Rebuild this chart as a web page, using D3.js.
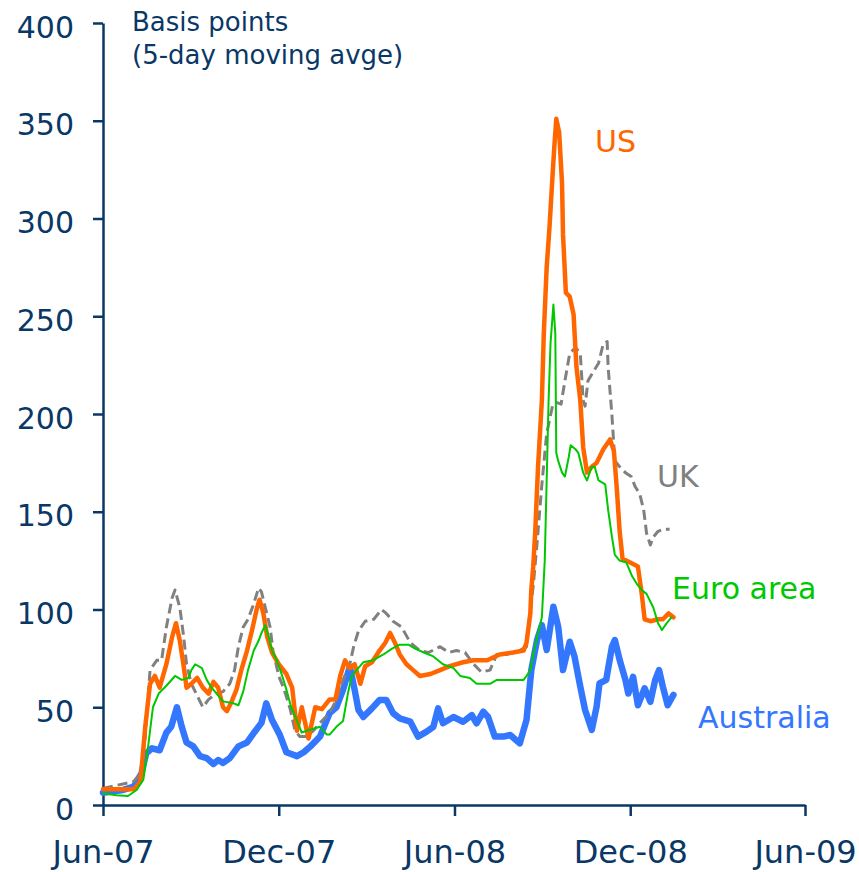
<!DOCTYPE html>
<html>
<head>
<meta charset="utf-8">
<script src="https://cdn.jsdelivr.net/npm/d3@7"></script>
<style>
    body { margin: 0; background: #fff; }
    svg { display: block; font-family: "DejaVu Sans", Verdana, sans-serif; }
</style>
</head>
<body>
<svg width="859" height="872"></svg>
<script>
// spreads in basis points, 5-day moving average
const ukData = [
    ["2007-06-01", 8.5], ["2007-07-03", 12], ["2007-07-10", 16], ["2007-07-15", 35],
    ["2007-07-20", 69], ["2007-07-27", 74], ["2007-08-01", 74], ["2007-08-06", 91],
    ["2007-08-12", 106], ["2007-08-15", 110], ["2007-08-20", 101], ["2007-08-24", 86],
    ["2007-08-27", 72], ["2007-09-01", 62], ["2007-09-07", 56], ["2007-09-13", 50],
    ["2007-09-19", 54], ["2007-09-27", 57], ["2007-10-04", 58], ["2007-10-11", 62],
    ["2007-10-16", 69], ["2007-10-20", 81], ["2007-10-25", 91], ["2007-10-30", 95],
    ["2007-11-05", 103], ["2007-11-10", 111], ["2007-11-13", 109], ["2007-11-17", 101],
    ["2007-11-22", 91], ["2007-11-25", 79], ["2007-12-01", 66], ["2007-12-06", 60],
    ["2007-12-13", 49], ["2007-12-18", 38], ["2007-12-23", 35], ["2007-12-30", 35],
    ["2008-01-06", 38], ["2008-01-13", 42], ["2008-01-23", 47], ["2008-01-30", 54],
    ["2008-02-06", 64], ["2008-02-13", 72], ["2008-02-17", 81], ["2008-02-22", 89],
    ["2008-02-29", 94], ["2008-03-09", 95], ["2008-03-17", 100], ["2008-03-22", 98],
    ["2008-03-29", 94], ["2008-04-07", 91], ["2008-04-16", 83], ["2008-04-26", 79],
    ["2008-05-05", 78], ["2008-05-17", 81], ["2008-05-26", 78], ["2008-06-03", 79],
    ["2008-06-12", 78], ["2008-06-21", 72], ["2008-06-29", 68], ["2008-07-08", 69],
    ["2008-07-15", 77], ["2008-07-25", 77], ["2008-08-08", 79], ["2008-08-15", 81],
    ["2008-08-19", 100], ["2008-08-22", 112], ["2008-08-26", 134], ["2008-08-31", 164],
    ["2008-09-05", 190], ["2008-09-11", 204], ["2008-09-15", 206], ["2008-09-20", 205],
    ["2008-09-24", 217], ["2008-09-29", 231], ["2008-10-05", 234], ["2008-10-10", 231],
    ["2008-10-13", 207], ["2008-10-15", 204], ["2008-10-18", 217], ["2008-10-24", 222],
    ["2008-10-29", 226], ["2008-11-03", 236], ["2008-11-07", 237], ["2008-11-08", 224],
    ["2008-11-12", 199], ["2008-11-15", 176], ["2008-11-20", 173], ["2008-11-26", 170],
    ["2008-12-02", 168], ["2008-12-06", 163], ["2008-12-11", 159], ["2008-12-15", 151],
    ["2008-12-18", 139], ["2008-12-22", 133], ["2008-12-25", 137], ["2008-12-30", 140],
    ["2009-01-04", 141], ["2009-01-11", 141]
];

const euroData = [
    ["2007-06-01", 6], ["2007-06-15", 5], ["2007-06-27", 4.6], ["2007-07-06", 7.7],
    ["2007-07-13", 13], ["2007-07-18", 30], ["2007-07-23", 50], ["2007-07-29", 57],
    ["2007-08-06", 61], ["2007-08-15", 66], ["2007-08-22", 64], ["2007-08-29", 65],
    ["2007-09-01", 69], ["2007-09-05", 72], ["2007-09-12", 70], ["2007-09-17", 64],
    ["2007-09-22", 60], ["2007-09-29", 56], ["2007-10-04", 53], ["2007-10-15", 52],
    ["2007-10-20", 51], ["2007-10-25", 58], ["2007-10-30", 69], ["2007-11-05", 79],
    ["2007-11-10", 84], ["2007-11-13", 88], ["2007-11-17", 92], ["2007-11-20", 87],
    ["2007-11-24", 79], ["2007-11-29", 74], ["2007-12-04", 67], ["2007-12-09", 59],
    ["2007-12-14", 50], ["2007-12-20", 43], ["2007-12-25", 37], ["2007-12-30", 38],
    ["2008-01-06", 39], ["2008-01-13", 40], ["2008-01-20", 36], ["2008-01-23", 36],
    ["2008-01-30", 40], ["2008-02-06", 43], ["2008-02-11", 57], ["2008-02-15", 66],
    ["2008-02-20", 69], ["2008-02-27", 73], ["2008-03-08", 74], ["2008-03-19", 77],
    ["2008-03-28", 80], ["2008-04-05", 82], ["2008-04-14", 82], ["2008-04-21", 80],
    ["2008-04-30", 78], ["2008-05-10", 76], ["2008-05-20", 72], ["2008-05-31", 70],
    ["2008-06-07", 66], ["2008-06-17", 65], ["2008-06-24", 62], ["2008-07-08", 62],
    ["2008-07-15", 64], ["2008-08-01", 64], ["2008-08-12", 64], ["2008-08-15", 66],
    ["2008-08-19", 69], ["2008-08-22", 77], ["2008-08-27", 88], ["2008-08-31", 96],
    ["2008-09-03", 125], ["2008-09-07", 207], ["2008-09-09", 236], ["2008-09-12", 256],
    ["2008-09-14", 241], ["2008-09-15", 180], ["2008-09-17", 176], ["2008-09-21", 170],
    ["2008-09-24", 168], ["2008-09-28", 178], ["2008-09-30", 184], ["2008-10-05", 182],
    ["2008-10-08", 180], ["2008-10-13", 170], ["2008-10-17", 166], ["2008-10-22", 173],
    ["2008-10-25", 173], ["2008-10-29", 166], ["2008-11-05", 164], ["2008-11-08", 151],
    ["2008-11-12", 137], ["2008-11-15", 128], ["2008-11-20", 125], ["2008-11-27", 124],
    ["2008-12-03", 117], ["2008-12-08", 113], ["2008-12-13", 110], ["2008-12-18", 108],
    ["2008-12-25", 101], ["2008-12-30", 93], ["2009-01-03", 89.5], ["2009-01-08", 93],
    ["2009-01-13", 96]
];

const usData = [
    ["2007-06-01", 8], ["2007-07-03", 8], ["2007-07-10", 12], ["2007-07-15", 40],
    ["2007-07-20", 62], ["2007-07-25", 66], ["2007-07-30", 60], ["2007-08-06", 72],
    ["2007-08-12", 86], ["2007-08-16", 93], ["2007-08-20", 84], ["2007-08-24", 71],
    ["2007-08-27", 60], ["2007-09-01", 62], ["2007-09-07", 65], ["2007-09-13", 60],
    ["2007-09-19", 57], ["2007-09-24", 63], ["2007-09-29", 60], ["2007-10-04", 50],
    ["2007-10-08", 48], ["2007-10-13", 53], ["2007-10-18", 59], ["2007-10-23", 69],
    ["2007-10-29", 79], ["2007-11-03", 89], ["2007-11-08", 100], ["2007-11-11", 105],
    ["2007-11-15", 98], ["2007-11-19", 86], ["2007-11-24", 78], ["2007-12-01", 72],
    ["2007-12-09", 67], ["2007-12-15", 60], ["2007-12-20", 38], ["2007-12-25", 50],
    ["2008-01-01", 34], ["2008-01-08", 50], ["2008-01-15", 49], ["2008-01-23", 54],
    ["2008-01-29", 54], ["2008-02-03", 66], ["2008-02-08", 74], ["2008-02-13", 70],
    ["2008-02-18", 72], ["2008-02-24", 62], ["2008-02-29", 71], ["2008-03-07", 73],
    ["2008-03-15", 79], ["2008-03-21", 83], ["2008-03-26", 88], ["2008-03-31", 83],
    ["2008-04-05", 77], ["2008-04-12", 72], ["2008-04-19", 69], ["2008-04-26", 66],
    ["2008-05-07", 67], ["2008-05-17", 69], ["2008-05-27", 71], ["2008-06-10", 73],
    ["2008-06-21", 74], ["2008-07-05", 74], ["2008-07-18", 77], ["2008-08-01", 78],
    ["2008-08-12", 79], ["2008-08-15", 83], ["2008-08-19", 98], ["2008-08-20", 110],
    ["2008-08-22", 122], ["2008-08-24", 139], ["2008-08-27", 173], ["2008-08-31", 207],
    ["2008-09-02", 241], ["2008-09-05", 275], ["2008-09-08", 296], ["2008-09-11", 321],
    ["2008-09-13", 337], ["2008-09-15", 351], ["2008-09-18", 344], ["2008-09-21", 318],
    ["2008-09-22", 292], ["2008-09-25", 262], ["2008-09-29", 260], ["2008-10-03", 251],
    ["2008-10-06", 224], ["2008-10-10", 207], ["2008-10-13", 183], ["2008-10-17", 170],
    ["2008-10-22", 173], ["2008-10-27", 175], ["2008-11-03", 182], ["2008-11-10", 187],
    ["2008-11-14", 181], ["2008-11-17", 162], ["2008-11-20", 140], ["2008-11-23", 126],
    ["2008-12-01", 124], ["2008-12-09", 122], ["2008-12-13", 108], ["2008-12-16", 95],
    ["2008-12-22", 94], ["2008-12-30", 95], ["2009-01-04", 95], ["2009-01-10", 98],
    ["2009-01-15", 96]
];

const ausData = [
    ["2007-06-01", 6.3], ["2007-06-22", 7.7], ["2007-07-03", 9.4], ["2007-07-11", 16],
    ["2007-07-16", 26.5], ["2007-07-22", 29], ["2007-07-30", 28], ["2007-08-06", 37],
    ["2007-08-11", 40], ["2007-08-17", 50], ["2007-08-22", 40], ["2007-08-27", 32],
    ["2007-09-03", 30], ["2007-09-10", 25], ["2007-09-17", 24], ["2007-09-24", 21],
    ["2007-09-29", 23], ["2007-10-04", 21.5], ["2007-10-11", 24], ["2007-10-20", 30],
    ["2007-10-29", 32], ["2007-11-06", 37.5], ["2007-11-13", 42], ["2007-11-18", 52],
    ["2007-11-24", 43.5], ["2007-12-02", 36], ["2007-12-09", 27], ["2007-12-20", 25],
    ["2007-12-27", 27], ["2008-01-03", 30], ["2008-01-13", 35], ["2008-01-23", 47],
    ["2008-01-30", 50], ["2008-02-06", 59], ["2008-02-13", 70.7], ["2008-02-18", 59],
    ["2008-02-22", 48.6], ["2008-02-27", 45], ["2008-03-07", 49.4], ["2008-03-15", 53.7],
    ["2008-03-22", 53.7], ["2008-03-29", 47], ["2008-04-05", 44.3], ["2008-04-16", 42.6],
    ["2008-04-24", 35], ["2008-05-03", 37.5], ["2008-05-10", 40], ["2008-05-15", 49.4],
    ["2008-05-20", 41.8], ["2008-05-31", 45], ["2008-06-10", 42.6], ["2008-06-19", 46],
    ["2008-06-24", 41.8], ["2008-07-01", 47.7], ["2008-07-06", 45], ["2008-07-13", 35],
    ["2008-07-22", 35], ["2008-07-29", 35.8], ["2008-08-08", 31.5], ["2008-08-15", 43.5],
    ["2008-08-20", 69], ["2008-08-26", 84.4], ["2008-08-31", 92], ["2008-09-05", 79.3],
    ["2008-09-12", 101.4], ["2008-09-17", 91.2], ["2008-09-22", 69], ["2008-09-29", 83.5],
    ["2008-10-04", 75.9], ["2008-10-10", 60.5], ["2008-10-15", 48.6], ["2008-10-22", 38.4],
    ["2008-10-27", 50.3], ["2008-10-30", 62.2], ["2008-11-06", 64], ["2008-11-12", 81],
    ["2008-11-15", 84.4], ["2008-11-20", 74.2], ["2008-11-26", 64], ["2008-11-29", 57],
    ["2008-12-04", 65.6], ["2008-12-09", 51], ["2008-12-16", 59.7], ["2008-12-22", 52.8],
    ["2008-12-27", 64], ["2008-12-31", 69], ["2009-01-04", 60.5], ["2009-01-09", 51],
    ["2009-01-15", 56.3]
];

const yTicks = [0, 50, 100, 150, 200, 250, 300, 350, 400];
const xTicks = ["2007-06-01", "2007-12-01", "2008-06-01", "2008-12-01", "2009-06-01"];
const xDomain = ["2007-06-01", "2009-06-01"];

const navy = "#0a3866";
const parseDate = d3.timeParse("%Y-%m-%d");

const x = d3.scaleTime().domain(xDomain.map(parseDate)).range([103, 805]);
const y = d3.scaleLinear().domain([0, 400]).range([805, 23]);

function drawAxes() {
    const svg = d3.select("svg");
    const yAxis = svg.append("g")
        .attr("transform", "translate(103, 0)")
        .call(d3.axisLeft(y).tickValues(yTicks).tickSize(10).tickSizeOuter(0).tickPadding(19));
    yAxis.selectAll("text")
        .attr("dy", "0.47em")
        .attr("font-size", "30px")
        .attr("font-family", "DejaVu Sans")
        .attr("fill", navy);

    const xAxis = svg.append("g")
        .attr("transform", "translate(0, 805)")
        .call(d3.axisBottom(x)
            .tickValues(xTicks.map(parseDate))
            .tickFormat(d3.timeFormat("%b-%y"))
            .tickSize(11).tickSizeOuter(0));
    xAxis.selectAll("text")
        .attr("y", 58)
        .attr("dy", 0)
        .attr("font-size", "32px")
        .attr("font-family", "DejaVu Sans")
        .attr("fill", navy);

    svg.selectAll(".domain, .tick line")
        .attr("stroke", navy)
        .attr("stroke-width", 2.5);
}

function drawSeries(data, color, width, dash) {
    const line = d3.line()
        .x(function(d) { return x(parseDate(d[0])); })
        .y(function(d) { return y(d[1]); });
    d3.select("svg")
        .append("path")
        .datum(data)
        .attr("d", line)
        .attr("fill", "none")
        .attr("stroke", color)
        .attr("stroke-width", width)
        .attr("stroke-linejoin", "round")
        .attr("stroke-linecap", dash ? "butt" : "round")
        .attr("stroke-dasharray", dash || null);
}

function drawLabels() {
    const svg = d3.select("svg");
    svg.append("text")
        .attr("x", 132).attr("y", 31)
        .text("Basis points")
        .attr("font-size", "26px").attr("fill", navy);
    svg.append("text")
        .attr("x", 132).attr("y", 64)
        .text("(5-day moving avge)")
        .attr("font-size", "26px").attr("fill", navy);

    const labels = [
        { text: "US", x: 595, y: 152, color: "#ff6600" },
        { text: "UK", x: 657, y: 487, color: "#808080" },
        { text: "Euro area", x: 672, y: 599, color: "#00c800" },
        { text: "Australia", x: 698, y: 728, color: "#3377ff" }
    ];
    svg.selectAll(".series-label").data(labels).enter()
        .append("text")
        .attr("class", "series-label")
        .attr("x", function(d) { return d.x; })
        .attr("y", function(d) { return d.y; })
        .attr("fill", function(d) { return d.color; })
        .attr("font-size", "30px")
        .text(function(d) { return d.text; });
}

drawAxes();
drawSeries(ausData, "#3377ff", 6.5);
drawSeries(ukData, "#808080", 3, "10,5");
drawSeries(usData, "#ff6600", 4.5);
drawSeries(euroData, "#00c800", 2);
drawLabels();
</script>
</body>
</html>
